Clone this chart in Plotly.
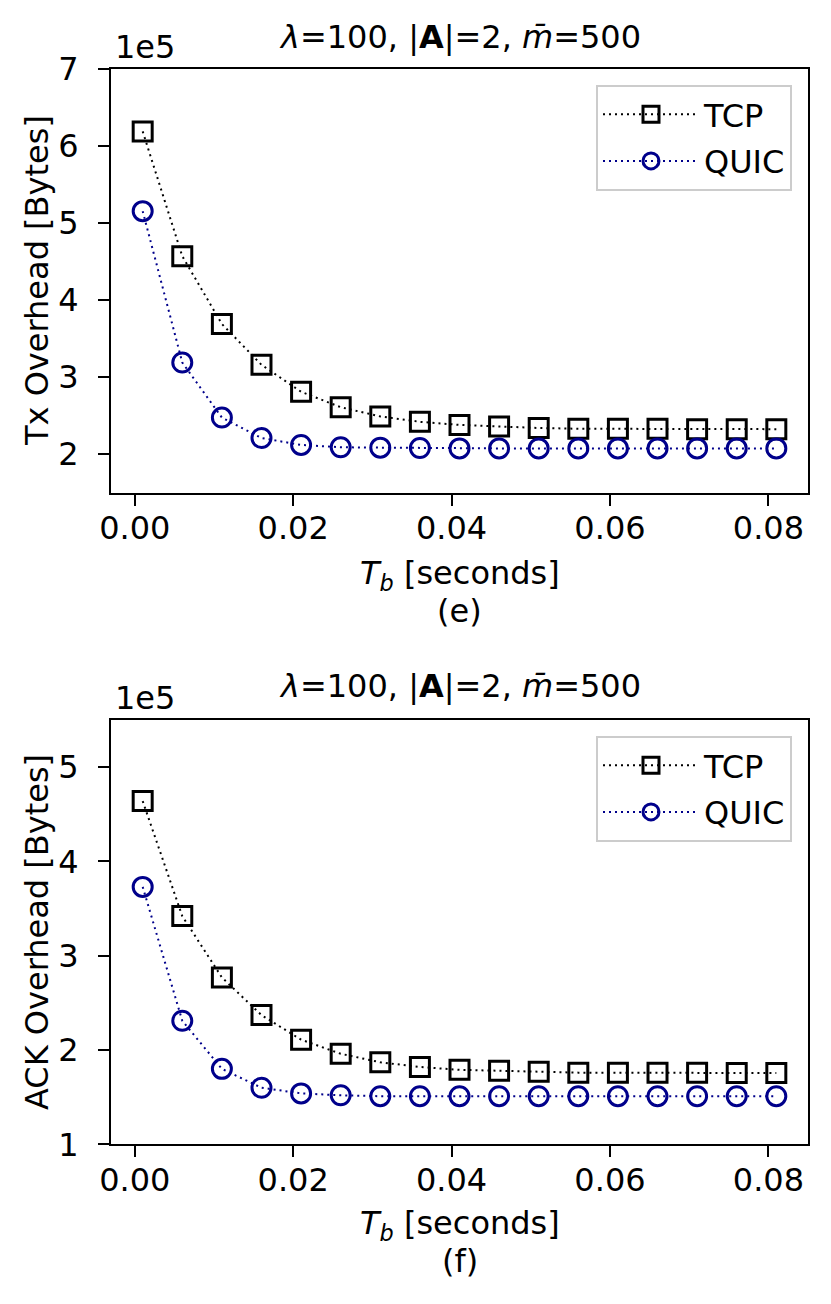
import plotly.graph_objects as go

# T_b values [seconds]
tb = [0.001, 0.006, 0.011, 0.016, 0.021, 0.026, 0.031, 0.036, 0.041,
      0.046, 0.051, 0.056, 0.061, 0.066, 0.071, 0.076, 0.081]

# (e) Tx overhead [Bytes]
tx_tcp = [619000, 457000, 369000, 316000, 281000, 261000, 249000, 242000, 238000,
          236000, 234000, 233000, 233000, 233000, 232500, 232500, 232500]
tx_quic = [515500, 319000, 247500, 221000, 212000, 209000, 208500, 208000, 207500,
           207500, 207500, 207500, 207500, 207500, 207500, 207500, 207500]

# (f) ACK overhead [Bytes]
ack_tcp = [464000, 342000, 277000, 237000, 211000, 196000, 187000, 182000, 179000,
           178000, 177000, 176000, 176000, 176000, 176000, 175500, 175500]
ack_quic = [373000, 231000, 180000, 160000, 154000, 152000, 151000, 151000, 151000,
            151000, 151000, 151000, 151000, 151000, 151000, 151000, 151000]

x_ticks = [0.0, 0.02, 0.04, 0.06, 0.08]
tx_yticks = [2, 3, 4, 5, 6, 7]
ack_yticks = [1, 2, 3, 4, 5]

SCALE = 1e5
W, H = 831, 1304
FONT = "DejaVu Sans"
FS = 32
NAVY = "#00008B"
TITLE = "<i>λ</i>=100, |<b>A</b>|=2, <i>m\u0304</i>=500"


def py(p):
    # pixel row -> paper y
    return 1 - p / H


fig = go.Figure()

panels = [
    dict(xa="x", ya="y", tcp=tx_tcp, quic=tx_quic, legend="legend"),
    dict(xa="x2", ya="y2", tcp=ack_tcp, quic=ack_quic, legend="legend2"),
]

for p in panels:
    fig.add_trace(go.Scatter(
        x=tb, y=[v / SCALE for v in p["tcp"]],
        xaxis=p["xa"], yaxis=p["ya"],
        mode="lines+markers", name="TCP",
        line=dict(color="black", width=2, dash="2px,4px"),
        marker=dict(symbol="square-open", size=19, color="black", line=dict(width=3, color="black")),
        legend=p["legend"], legendgroup=p["legend"] + "a",
    ))
    fig.add_trace(go.Scatter(
        x=tb, y=[v / SCALE for v in p["quic"]],
        xaxis=p["xa"], yaxis=p["ya"],
        mode="lines+markers", name="QUIC",
        line=dict(color=NAVY, width=2, dash="2px,4px"),
        marker=dict(symbol="circle-open", size=19, color=NAVY, line=dict(width=3, color=NAVY)),
        legend=p["legend"], legendgroup=p["legend"] + "b",
    ))

x_dom = [111 / W, 808 / W]
axis_common = dict(
    showline=True, linecolor="black", linewidth=2, mirror=True,
    ticks="outside", ticklen=11, tickwidth=2, tickcolor="black",
    showgrid=False, zeroline=False, automargin=False,
    tickfont=dict(family=FONT, size=FS, color="black"),
)

fig.update_layout(
    width=W, height=H,
    margin=dict(l=0, r=0, t=0, b=0, autoexpand=False),
    paper_bgcolor="white", plot_bgcolor="white",
    font=dict(family=FONT, size=FS, color="black"),
    xaxis=dict(domain=x_dom, anchor="y", range=[-0.003, 0.085], tickvals=x_ticks,
               tickformat=".2f", ticklabelstandoff=-5, **axis_common),
    yaxis=dict(domain=[py(492.7), py(69)], anchor="x", range=[1.5, 7], tickvals=tx_yticks,
               ticklabelstandoff=13, **axis_common),
    xaxis2=dict(domain=x_dom, anchor="y2", range=[-0.003, 0.085], tickvals=x_ticks,
                tickformat=".2f", ticklabelstandoff=-5, **axis_common),
    yaxis2=dict(domain=[py(1144.3), py(720)], anchor="x2", range=[1, 5.5], tickvals=ack_yticks,
                ticklabelstandoff=13, **axis_common),
    showlegend=True,
)

legend_common = dict(
    xanchor="right", yanchor="top", x=792 / W,
    bgcolor="rgba(255,255,255,0.8)", bordercolor="#cccccc", borderwidth=2,
    font=dict(family=FONT, size=FS, color="black"),
    traceorder="grouped", tracegroupgap=2, itemwidth=96,
)
fig.update_layout(
    legend=dict(y=py(85), **legend_common),
    legend2=dict(y=py(736), **legend_common),
)

# titles, axis labels, offset text
xc = (111 + 808) / 2 / W
texts = [
    (xc, py(37), TITLE, 0, "center"),
    (xc, py(686), TITLE, 0, "center"),
    (xc, py(575), "<i>T</i><sub><i>b</i></sub> [seconds]", 0, "center"),
    (xc, py(611), "(e)", 0, "center"),
    (xc, py(1225), "<i>T</i><sub><i>b</i></sub> [seconds]", 0, "center"),
    (xc, py(1261), "(f)", 0, "center"),
    (37 / W, py(281), "Tx Overhead [Bytes]", -90, "center"),
    (37 / W, py(932), "ACK Overhead [Bytes]", -90, "center"),
    (113 / W, py(47), "1e5", 0, "left"),
    (113 / W, py(698), "1e5", 0, "left"),
]
for x, y, t, ang, xa in texts:
    fig.add_annotation(x=x, y=y, xref="paper", yref="paper", text=t, showarrow=False,
                       textangle=ang, xanchor=xa, yanchor="middle",
                       font=dict(family=FONT, size=FS, color="black"))

fig.write_html("out.html", config={"displayModeBar": False},
               post_script="document.body.style.margin='0px';")
